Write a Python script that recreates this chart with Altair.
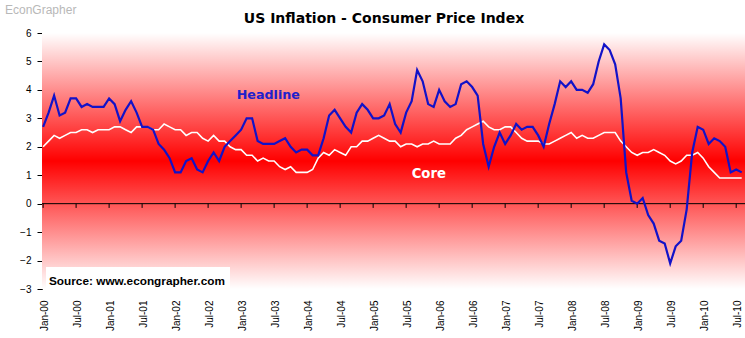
import altair as alt
import pandas as pd

# Year-on-year % change, monthly, Jan-2000 .. Aug-2010
headline = [
    2.7, 3.2, 3.8, 3.1, 3.2, 3.7, 3.7, 3.4, 3.5, 3.4, 3.4, 3.4,
    3.7, 3.5, 2.9, 3.3, 3.6, 3.2, 2.7, 2.7, 2.6, 2.1, 1.9, 1.6,
    1.1, 1.1, 1.5, 1.6, 1.2, 1.1, 1.5, 1.8, 1.5, 2.0, 2.2, 2.4,
    2.6, 3.0, 3.0, 2.2, 2.1, 2.1, 2.1, 2.2, 2.3, 2.0, 1.8, 1.9,
    1.9, 1.7, 1.7, 2.3, 3.1, 3.3, 3.0, 2.7, 2.5, 3.2, 3.5, 3.3,
    3.0, 3.0, 3.1, 3.5, 2.8, 2.5, 3.2, 3.6, 4.7, 4.3, 3.5, 3.4,
    4.0, 3.6, 3.4, 3.5, 4.2, 4.3, 4.1, 3.8, 2.1, 1.3, 2.0, 2.5,
    2.1, 2.4, 2.8, 2.6, 2.7, 2.7, 2.4, 2.0, 2.8, 3.5, 4.3, 4.1,
    4.3, 4.0, 4.0, 3.9, 4.2, 5.0, 5.6, 5.4, 4.9, 3.7, 1.1, 0.1,
    0.0, 0.2, -0.4, -0.7, -1.3, -1.4, -2.1, -1.5, -1.3, -0.2, 1.8, 2.7,
    2.6, 2.1, 2.3, 2.2, 2.0, 1.1, 1.2, 1.1,
]
core = [
    2.0, 2.2, 2.4, 2.3, 2.4, 2.5, 2.5, 2.6, 2.6, 2.5, 2.6, 2.6,
    2.6, 2.7, 2.7, 2.6, 2.5, 2.7, 2.7, 2.7, 2.6, 2.6, 2.8, 2.7,
    2.6, 2.6, 2.4, 2.5, 2.5, 2.3, 2.2, 2.4, 2.2, 2.2, 2.0, 1.9,
    1.9, 1.7, 1.7, 1.5, 1.6, 1.5, 1.5, 1.3, 1.2, 1.3, 1.1, 1.1,
    1.1, 1.2, 1.6, 1.8, 1.7, 1.9, 1.8, 1.7, 2.0, 2.0, 2.2, 2.2,
    2.3, 2.4, 2.3, 2.2, 2.2, 2.0, 2.1, 2.1, 2.0, 2.1, 2.1, 2.2,
    2.1, 2.1, 2.1, 2.3, 2.4, 2.6, 2.7, 2.8, 2.9, 2.7, 2.6, 2.6,
    2.7, 2.7, 2.5, 2.3, 2.2, 2.2, 2.2, 2.1, 2.1, 2.2, 2.3, 2.4,
    2.5, 2.3, 2.4, 2.3, 2.3, 2.4, 2.5, 2.5, 2.5, 2.2, 2.0, 1.8,
    1.7, 1.8, 1.8, 1.9, 1.8, 1.7, 1.5, 1.4, 1.5, 1.7, 1.7, 1.8,
    1.6, 1.3, 1.1, 0.9, 0.9, 0.9, 0.9, 0.9,
]
tick_labels = [
    "Jan-00", "Jul-00", "Jan-01", "Jul-01", "Jan-02", "Jul-02", "Jan-03",
    "Jul-03", "Jan-04", "Jul-04", "Jan-05", "Jul-05", "Jan-06", "Jul-06",
    "Jan-07", "Jul-07", "Jan-08", "Jul-08", "Jan-09", "Jul-09", "Jan-10",
    "Jul-10",
]
y_ticks = [-3, -2, -1, 0, 1, 2, 3, 4, 5, 6]

title_text = "US Inflation - Consumer Price Index"
source_text = "Source: www.econgrapher.com"
watermark = "EconGrapher"

df = pd.DataFrame({"m": list(range(len(headline))), "Headline": headline, "Core": core})
tick_months = [6 * i for i in range(len(tick_labels))]
ticks_df = pd.DataFrame({"m": tick_months})
one = pd.DataFrame({"a": [0]})

W, H = 703, 256
xscale = alt.Scale(domain=[-0.2, 127.6], nice=False, zero=False)
yscale = alt.Scale(domain=[-3, 6], nice=False, zero=False)

label_expr = "[" + ",".join(f"'{t}'" for t in tick_labels) + "][round(datum.value/6)]"

xaxis = alt.Axis(
    values=tick_months, labelExpr=label_expr, labelAngle=270,
    labelAlign="right", labelBaseline="middle", labelFontSize=10,
    labelFont="Liberation Sans", labelColor="black", domain=False,
    ticks=False, grid=False, labelPadding=11, title=None, labelOffset=1,
    labelOverlap=False, labelFlush=False,
)
yaxis = alt.Axis(
    values=y_ticks, format="d", labelFontSize=10, labelFont="Liberation Sans",
    labelColor="black", domainColor="black", tickColor="black", tickSize=5,
    labelPadding=6, grid=False, title=None, labelFlush=False,
)

bg = alt.Chart(one).mark_rect(
    fill=alt.Gradient(
        gradient="linear", x1=0, x2=0, y1=0, y2=1,
        stops=[
            alt.GradientStop(color="#ffffff", offset=0),
            alt.GradientStop(color="#ff0000", offset=0.5),
            alt.GradientStop(color="#ffffff", offset=1),
        ],
    )
).encode(x=alt.value(0), x2=alt.value(W), y=alt.value(0), y2=alt.value(H))

source_box = alt.Chart(one).mark_rect(fill="white").encode(
    x=alt.value(4), x2=alt.value(188), y=alt.value(234), y2=alt.value(H - 1)
)

zero_line = alt.Chart(one).mark_rule(color="black", strokeWidth=1).encode(
    x=alt.value(0), x2=alt.value(W), y=alt.Y(datum=0, scale=yscale, axis=yaxis)
)

zero_ticks = alt.Chart(ticks_df).mark_rule(color="black", strokeWidth=1).encode(
    x=alt.X("m:Q", scale=xscale, axis=xaxis),
    y=alt.Y(datum=0, scale=yscale, axis=yaxis),
    y2=alt.datum(-0.15),
)

core_line = alt.Chart(df).mark_line(color="#ffffff", strokeWidth=1.6).encode(
    x=alt.X("m:Q", scale=xscale, axis=xaxis),
    y=alt.Y("Core:Q", scale=yscale, axis=yaxis),
)

head_line = alt.Chart(df).mark_line(color="#1212c8", strokeWidth=2.2).encode(
    x=alt.X("m:Q", scale=xscale, axis=xaxis),
    y=alt.Y("Headline:Q", scale=yscale, axis=yaxis),
)

headline_lbl = alt.Chart(one).mark_text(
    text="Headline", align="left", baseline="middle", font="DejaVu Sans",
    fontWeight="bold", fontSize=12.7, color="#2020cc",
).encode(x=alt.X(datum=35.2, scale=xscale, axis=xaxis),
         y=alt.Y(datum=3.82, scale=yscale, axis=yaxis))

core_lbl = alt.Chart(one).mark_text(
    text="Core", align="left", baseline="middle", font="DejaVu Sans",
    fontWeight="bold", fontSize=13.2, color="#ffffff",
).encode(x=alt.X(datum=67.0, scale=xscale, axis=xaxis),
         y=alt.Y(datum=1.04, scale=yscale, axis=yaxis))

title = alt.Chart(one).mark_text(
    text=title_text, align="center", baseline="alphabetic", font="DejaVu Sans",
    fontWeight="bold", fontSize=14, color="#000000",
).encode(x=alt.value(342), y=alt.value(-10))

source = alt.Chart(one).mark_text(
    text=source_text, align="left", baseline="alphabetic", font="Liberation Sans",
    fontWeight="bold", fontSize=11.8, color="#000000",
).encode(x=alt.value(7), y=alt.value(252))

wm = alt.Chart(one).mark_text(
    text=watermark, align="left", baseline="alphabetic", font="Liberation Sans",
    fontSize=12, color="#b8b8b8",
).encode(x=alt.value(-37), y=alt.value(-19))

chart = alt.layer(
    bg, source_box, zero_line, zero_ticks, core_line, head_line,
    headline_lbl, core_lbl, title, source, wm,
).properties(
    width=W, height=H,
    padding={"left": 42, "top": 33, "right": 0, "bottom": 49},
    autosize=alt.AutoSizeParams(type="none"),
).configure_view(stroke=None)

chart.save("out.html", embed_options={"renderer": "svg", "actions": False})
